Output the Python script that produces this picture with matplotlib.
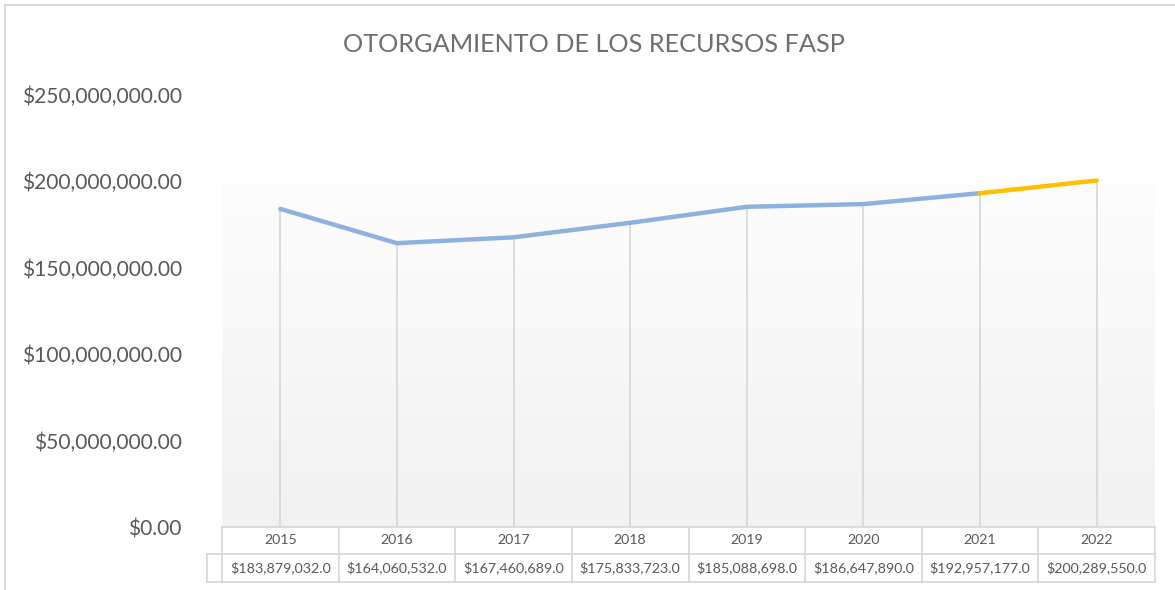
import matplotlib
matplotlib.use("Agg")
import matplotlib.pyplot as plt
import matplotlib.transforms as mtransforms
from matplotlib.lines import Line2D
import numpy as np

# ---- data ----
years = ["2015", "2016", "2017", "2018", "2019", "2020", "2021", "2022"]
values = [183879032.0, 164060532.0, 167460689.0, 175833723.0,
          185088698.0, 186647890.0, 192957177.0, 200289550.0]
y_ticks = [0, 50000000, 100000000, 150000000, 200000000, 250000000]
title = "OTORGAMIENTO DE LOS RECURSOS FASP"

FONT = "Lato"
TXT = "#595959"
GRID = "#D9D9D9"
BLUE = "#8EB1E0"
GOLD = "#FFC000"

W, H = 1175, 590
fig = plt.figure(figsize=(W / 100, H / 100), dpi=100)
fig.patch.set_facecolor("white")

# chart-area border (top & left visible)
fig.add_artist(Line2D([5 / W, 5 / W], [0, 1 - 5 / H], transform=fig.transFigure,
                      color=GRID, lw=1.5))
fig.add_artist(Line2D([5 / W, 1], [1 - 5 / H, 1 - 5 / H], transform=fig.transFigure,
                      color=GRID, lw=1.5))

ax_l, ax_r = 222 / W, 1155 / W
ax_b, ax_t = 1 - 527 / H, 1 - 94.5 / H
ax = fig.add_axes([ax_l, ax_b, ax_r - ax_l, ax_t - ax_b])
ax.set_facecolor("none")
for s in ax.spines.values():
    s.set_visible(False)

n = len(years)
x = np.arange(n)
ax.set_xlim(-0.5, n - 0.5)
ax.set_ylim(0, 250000000)

# gradient plot-area background
ax_h_px = 527 - 94.5
grad_top = (527 - 185) / ax_h_px
grad = np.linspace(0.992, 0.945, 256).reshape(-1, 1)
ax.imshow(np.dstack([grad, grad, grad]), extent=[0, 1, 0, grad_top],
          transform=ax.transAxes, aspect="auto", zorder=0, interpolation="bilinear")

# drop lines
for xi, v in zip(x, values):
    ax.plot([xi, xi], [0, v], color=GRID, lw=1.3, zorder=1, solid_capstyle="butt")

# series line: blue up to 2021, gold for last segment
ax.plot(x[:-1], values[:-1], color=BLUE, lw=3.2, zorder=3,
        solid_capstyle="round", solid_joinstyle="round")
ax.plot(x[-2:], values[-2:], color=GOLD, lw=3.2, zorder=4,
        solid_capstyle="round", solid_joinstyle="round")

# y axis labels
ax.set_yticks(y_ticks)
ax.set_yticklabels(["${:,.2f}".format(v) for v in y_ticks],
                   fontfamily=FONT, fontsize=15.1, color=TXT)
ax.tick_params(axis="y", length=0, pad=29)
ax.set_xticks([])

# title
fig.text(594 / W, 1 - 45 / H, title, ha="center", va="center",
         fontfamily=FONT, fontsize=18.2, color="#6E6E6E")

# data table
trans = mtransforms.blended_transform_factory(ax.transData, ax.transAxes)
r0 = 0.0
r1 = -(554 - 527) / ax_h_px
r2 = -(582 - 527) / ax_h_px
left_key = -0.5 - (222 - 207) / (933 / n)
lkw = dict(color=GRID, lw=1.3, transform=trans, clip_on=False, zorder=5,
           solid_capstyle="projecting")
ax.plot([-0.5, n - 0.5], [r0, r0], **lkw)
ax.plot([left_key, n - 0.5], [r1, r1], **lkw)
ax.plot([left_key, n - 0.5], [r2, r2], **lkw)
ax.plot([left_key, left_key], [r1, r2], **lkw)
for b in np.arange(n + 1) - 0.5:
    ax.plot([b, b], [r0, r2], **lkw)
for xi, yr, v in zip(x, years, values):
    ax.text(xi, (r0 + r1) / 2, yr, ha="center", va="center", transform=trans,
            fontfamily=FONT, fontsize=10.2, color=TXT)
    ax.text(xi, (r1 + r2) / 2, "${:,.1f}".format(v), ha="center", va="center",
            transform=trans, fontfamily=FONT, fontsize=10.3, color=TXT)

fig.savefig("out.png", dpi=100, facecolor="white")
